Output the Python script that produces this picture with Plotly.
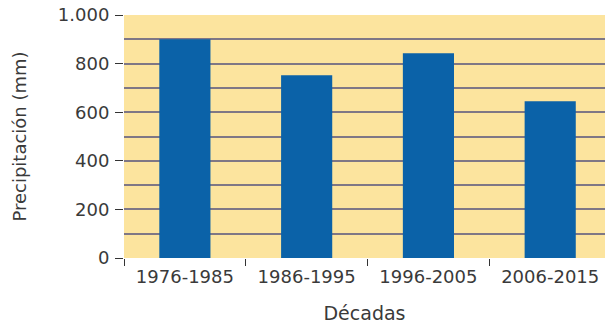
import plotly.graph_objects as go

decadas = ["1976-1985", "1986-1995", "1996-2005", "2006-2015"]
precipitacion = [900, 752, 843, 645]
y_ticks = [0, 200, 400, 600, 800, 1000]
y_labels = ["0", "200", "400", "600", "800", "1.000"]

font_family = "'DejaVu Sans', Verdana, sans-serif"
grid_color = "#7f7785"

fig = go.Figure(go.Bar(
    x=decadas, y=precipitacion,
    marker=dict(color="#0b62a8", line=dict(width=0)),
    width=0.42,
))

fig.update_layout(
    width=605, height=326,
    margin=dict(l=124, r=0, t=15, b=68),
    paper_bgcolor="white",
    plot_bgcolor="#fce49e",
    showlegend=False,
    font=dict(family=font_family, size=18, color="#3a3a3a"),
)
fig.update_yaxes(
    range=[0, 1000],
    tickvals=y_ticks, ticktext=y_labels,
    ticks="outside", ticklen=8, tickcolor="#333333", tickwidth=1.2,
    ticklabelstandoff=2,
    showgrid=True, gridcolor=grid_color, gridwidth=1.5,
    minor=dict(dtick=100, showgrid=True, gridcolor=grid_color, gridwidth=1.5),
    zeroline=False, showline=False,
    title=dict(text="Precipitación (mm)", font=dict(size=18), standoff=26),
    tickfont=dict(size=18),
)
fig.update_xaxes(
    range=[-0.5, 3.45],
    ticks="outside", tickson="boundaries", ticklen=7, tickcolor="#333333", tickwidth=1.2,
    ticklabelstandoff=6,
    showgrid=False, showline=False,
    title=dict(text="Décadas", font=dict(size=19), standoff=20),
    tickfont=dict(size=18),
)

fig.write_html("out.html")
